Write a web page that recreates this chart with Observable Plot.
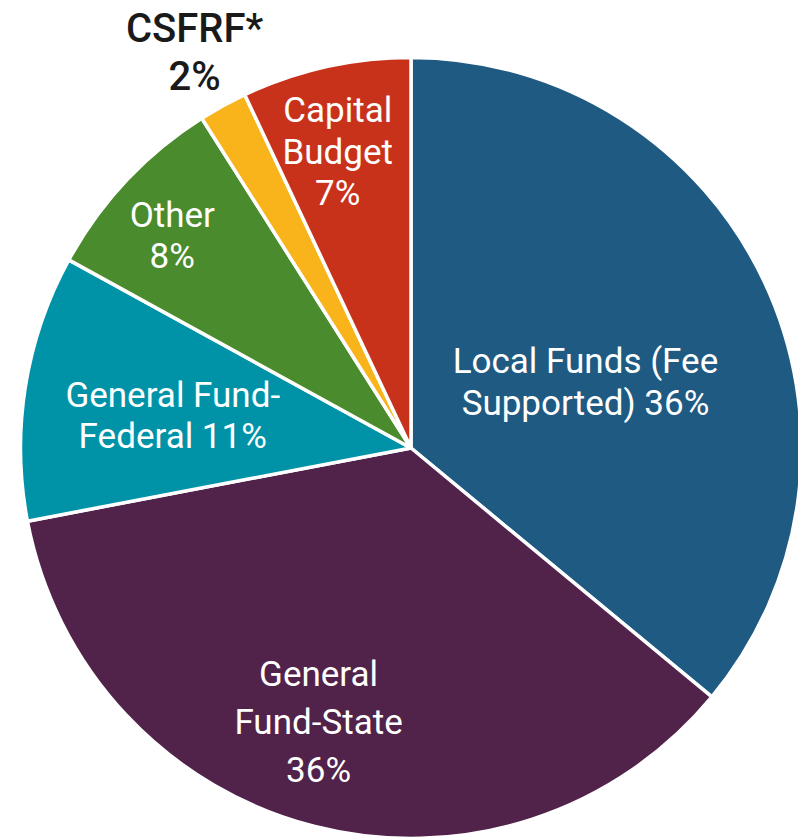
<!DOCTYPE html>
<html><head><meta charset="utf-8">
<script src="https://cdn.jsdelivr.net/npm/d3@7"></script>
<script src="https://cdn.jsdelivr.net/npm/@observablehq/plot@0.6"></script>
<style>body{margin:0;background:#fff}</style>
</head><body><div id="chart"></div>
<script>
// ---- data ----
const categories = ["Local Funds (Fee Supported)", "General Fund-State", "General Fund-Federal", "Other", "CSFRF*", "Capital Budget"];
const shares = [36, 36, 11, 8, 2, 7];
const labels = ["Local Funds (Fee\nSupported) 36%", "General\nFund-State\n36%", "General Fund-\nFederal 11%", "Other\n8%", "CSFRF*\n2%", "Capital\nBudget\n7%"];
const colors = ["#1f5a82", "#51234a", "#0093a8", "#4a8b2d", "#f8b41a", "#c9321a"];

// ---- layout (not data) ----
const W = 798, H = 837, CX = 411, CY = 448, RAD = 389;
const labelRadius = [0.48, 0.734, 0.62, 0.825, 1.165, 0.789];
const labelTurnDeg = [3.9, 4.6, -0.9, -1.4, 0.2, -1.3];
const labelGroup = ["in", "inTall", "in", "in", "out", "in"];

const color = Plot.scale({color: {type: "ordinal", domain: categories, range: colors}});

const rows = categories.map((c, i) => ({category: c, value: shares[i], label: labels[i], i}));
const arcs = d3.pie().sort(null).value(d => d.value)(rows);
arcs.forEach((a, i) => {
  const mid = (a.startAngle + a.endAngle) / 2 + labelTurnDeg[i] * Math.PI / 180;
  a.lx = labelRadius[i] * Math.sin(mid);
  a.ly = labelRadius[i] * Math.cos(mid);
  a.label = rows[i].label;
  a.group = labelGroup[i];
});

const pieMark = (index, scales) => {
  const cx = scales.x(0), cy = scales.y(0);
  const R = scales.x(1) - cx + 1.5;
  const arc = d3.arc().innerRadius(0).outerRadius(R);
  const g = d3.create("svg:g").attr("transform", `translate(${cx},${cy})`);
  g.selectAll("path").data(arcs).join("path")
    .attr("d", arc)
    .attr("fill", d => color.apply(d.data.category))
    .attr("stroke", "white")
    .attr("stroke-width", 3.5)
    .attr("stroke-linejoin", "round");
  return g.node();
};

const font = "Roboto, 'Open Sans', sans-serif";
const chart = Plot.plot({
  width: W, height: H, margin: 0,
  x: {domain: [-CX / RAD, (W - CX) / RAD], axis: null},
  y: {domain: [-(H - CY) / RAD, CY / RAD], axis: null},
  marks: [
    pieMark,
    Plot.text(arcs.filter(d => d.group === "in"), {x: "lx", y: "ly", text: "label", fill: "white", fontSize: 35, lineHeight: 1.18, fontFamily: font}),
    Plot.text(arcs.filter(d => d.group === "inTall"), {x: "lx", y: "ly", text: "label", fill: "white", fontSize: 35, lineHeight: 1.37, fontFamily: font}),
    Plot.text(arcs.filter(d => d.group === "out"), {x: "lx", y: "ly", text: "label", fill: "#1a1a1a", fontSize: 40, fontWeight: 500, lineHeight: 1.2, fontFamily: font})
  ]
});
document.getElementById("chart").appendChild(chart);
</script>
</body></html>
